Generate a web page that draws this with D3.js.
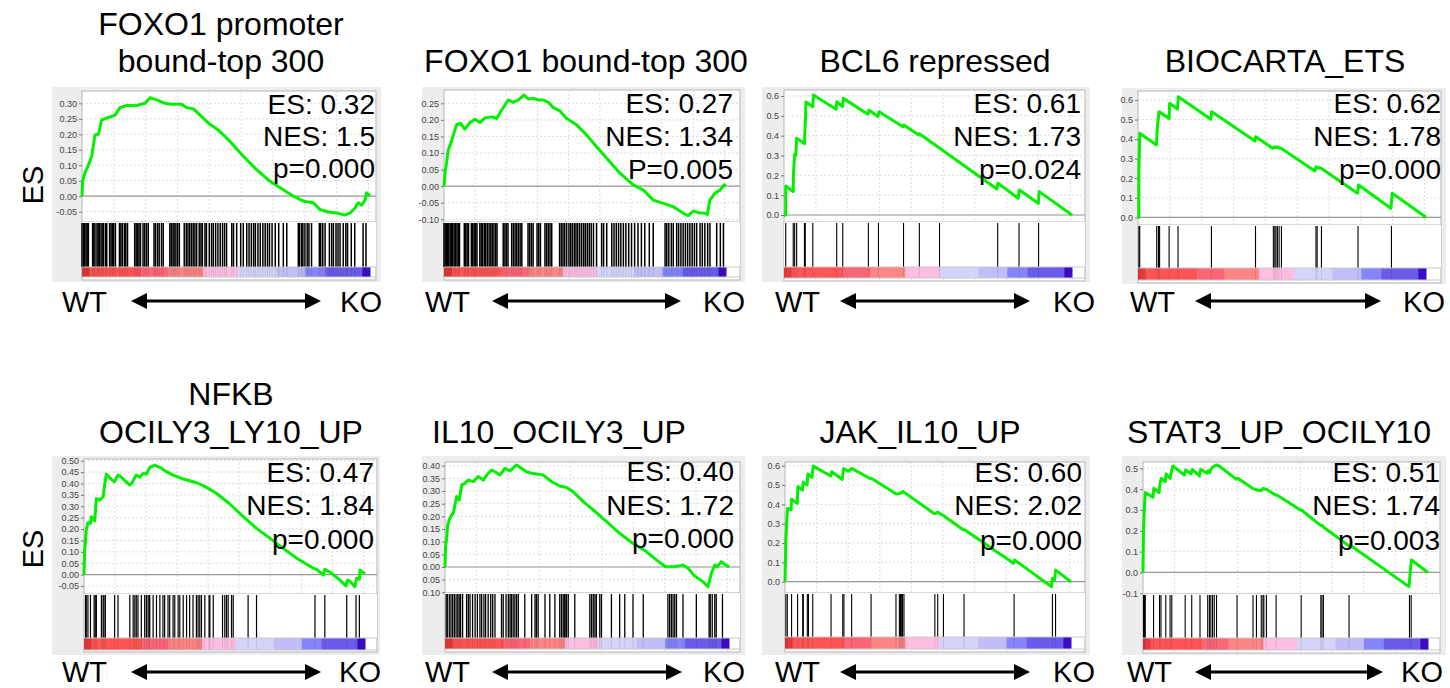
<!DOCTYPE html>
<html>
<head>
<meta charset="utf-8">
<script src="https://cdn.jsdelivr.net/npm/d3@7"></script>
<style>
  body { margin: 0; background: #fff; }
  svg { display: block; }
  text { font-family: "Liberation Sans", Arial, sans-serif; }
</style>
</head>
<body>
<svg width="1450" height="688"></svg>
<script>
// ---------- data ----------
// ranks are given in thousandths of the ranked gene list (0 = most WT, 1000 = most KO)
const titles = [
  ["FOXO1 promoter", "bound-top 300"],
  ["FOXO1 bound-top 300"],
  ["BCL6 repressed"],
  ["BIOCARTA_ETS"],
  ["NFKB", "OCILY3_LY10_UP"],
  ["IL10_OCILY3_UP"],
  ["JAK_IL10_UP"],
  ["STAT3_UP_OCILY10"]
];
const esScores = ["0.32", "0.27", "0.61", "0.62", "0.47", "0.40", "0.60", "0.51"];
const nesScores = ["1.5", "1.34", "1.73", "1.78", "1.84", "1.72", "2.02", "1.74"];
const pValues = ["p=0.000", "P=0.005", "p=0.024", "p=0.000", "p=0.000", "p=0.000", "p=0.000", "p=0.003"];

const ticks1 = [-0.05, 0, 0.05, 0.10, 0.15, 0.20, 0.25, 0.30];
const ticks2 = [-0.10, -0.05, 0, 0.05, 0.10, 0.15, 0.20, 0.25];
const ticks3 = [0, 0.1, 0.2, 0.3, 0.4, 0.5, 0.6];
const ticks4 = [0, 0.1, 0.2, 0.3, 0.4, 0.5, 0.6];
const ticks5 = [-0.05, 0, 0.05, 0.10, 0.15, 0.20, 0.25, 0.30, 0.35, 0.40, 0.45, 0.50];
const ticks6 = [-0.10, -0.05, 0, 0.05, 0.10, 0.15, 0.20, 0.25, 0.30, 0.35, 0.40];
const ticks7 = [0, 0.1, 0.2, 0.3, 0.4, 0.5, 0.6];
const ticks8 = [-0.1, 0, 0.1, 0.2, 0.3, 0.4, 0.5];

// ranked list colour bar
const rankBreaks = [0, 27, 206, 300, 421, 541, 675, 775, 845, 973, 1000];
const rankColors = ["#e43a3f", "#fd5555", "#fb6677", "#fc8585", "#ffbde2",
                    "#d4d4fb", "#c1bdf9", "#8585f9", "#6a5be9", "#3b0cc4"];
const listSize = 18100;
const gridStep = 2000;

// running enrichment score [rank, ES]
const curve1 = [[0,0],[2,.048],[10,.075],[22,.10],[34,.129],[45,.198],[57,.20],[68,.246],[91,.254],[115,.262],[132,.286],[155,.293],[190,.293],[219,.30],[236,.318],[259,.311],[288,.30],[311,.297],[346,.297],[363,.286],[387,.282],[421,.252],[444,.232],[473,.214],[514,.177],[560,.129],[606,.086],[653,.048],[699,.021],[734,0],[769,-.016],[803,-.021],[826,-.043],[855,-.051],[884,-.054],[913,-.061],[931,-.054],[948,-.038],[959,-.021],[971,-.029],[983,-.011],[988,.011],[1000,.002]];
const curve2 = [[0,0],[4,.044],[9,.069],[15,.109],[24,.129],[33,.154],[45,.186],[59,.189],[74,.172],[92,.192],[110,.202],[128,.192],[145,.206],[169,.209],[187,.204],[204,.229],[228,.26],[246,.253],[264,.26],[284,.275],[299,.263],[317,.265],[335,.26],[352,.26],[370,.253],[388,.237],[411,.227],[435,.204],[470,.185],[506,.154],[541,.119],[577,.084],[624,.039],[671,.004],[707,-.012],[742,-.042],[778,-.052],[813,-.062],[849,-.082],[866,-.089],[884,-.075],[902,-.08],[926,-.082],[934,-.085],[943,-.042],[961,-.021],[979,-.012],[993,.004],[1000,0]];
const curve3 = [[0,0],[6,0],[6,.146],[32,.118],[33,.213],[37,.306],[41,.30],[44,.387],[71,.36],[73,.437],[75,.50],[76,.57],[100,.546],[102,.605],[181,.533],[183,.571],[203,.546],[206,.588],[291,.508],[295,.529],[326,.496],[330,.521],[413,.445],[416,.454],[468,.403],[470,.41],[739,.131],[743,.16],[813,.084],[817,.126],[883,.059],[886,.118],[1000,0]];
const curve4 = [[0,0],[3,0],[3,.225],[6,.43],[64,.37],[67,.458],[73,.54],[108,.506],[110,.583],[137,.554],[140,.617],[253,.501],[256,.54],[406,.39],[409,.412],[467,.353],[473,.36],[479,.357],[484,.36],[490,.355],[498,.352],[614,.237],[618,.259],[622,.251],[626,.255],[637,.25],[762,.123],[766,.165],[878,.046],[883,.123],[1000,0]];
const curve5 = [[0,0],[2,.10],[5,.145],[8,.195],[14,.228],[23,.225],[26,.254],[38,.236],[44,.334],[56,.327],[68,.342],[74,.40],[80,.441],[97,.418],[109,.408],[121,.437],[133,.427],[163,.393],[169,.40],[186,.437],[198,.427],[210,.444],[222,.441],[234,.471],[252,.481],[270,.471],[293,.452],[317,.437],[347,.422],[376,.412],[406,.401],[436,.383],[471,.357],[519,.31],[567,.254],[614,.203],[662,.159],[709,.115],[757,.072],[816,.028],[828,.023],[852,-.002],[857,.023],[881,.006],[911,-.024],[932,-.05],[938,-.024],[947,-.03],[964,-.053],[970,-.016],[980,-.02],[982,.02],[1000,.003]];
const curve6 = [[0,0],[2,.08],[6,.113],[9,.162],[15,.186],[23,.205],[29,.212],[35,.245],[41,.278],[50,.264],[59,.324],[70,.33],[82,.343],[100,.337],[117,.357],[135,.343],[147,.363],[164,.383],[176,.376],[193,.363],[211,.389],[229,.38],[252,.403],[270,.389],[287,.376],[305,.37],[322,.367],[346,.363],[375,.337],[404,.32],[428,.314],[451,.297],[487,.258],[522,.225],[569,.179],[615,.133],[662,.093],[709,.061],[744,.028],[777,.001],[803,.001],[821,.004],[838,.008],[856,-.005],[879,-.036],[897,-.049],[914,-.064],[926,-.078],[938,-.025],[950,.008],[959,.001],[973,.021],[985,.011],[1000,0]];
const curve7 = [[0,0],[3,.216],[6,.31],[9,.379],[21,.371],[23,.426],[43,.405],[45,.491],[61,.474],[64,.514],[77,.50],[80,.557],[94,.54],[99,.598],[160,.547],[164,.569],[200,.529],[205,.586],[221,.571],[233,.586],[297,.534],[303,.534],[385,.457],[391,.453],[403,.457],[413,.466],[521,.353],[527,.353],[533,.36],[551,.345],[624,.267],[628,.269],[799,.095],[803,.112],[932,-.026],[935,.017],[943,.009],[946,.06],[1000,0]];
const curve8 = [[0,0],[2,.22],[5,.308],[8,.384],[35,.361],[38,.404],[56,.383],[60,.428],[64,.452],[78,.436],[81,.473],[95,.452],[101,.492],[105,.511],[145,.468],[150,.492],[169,.473],[173,.495],[198,.463],[202,.495],[226,.476],[229,.489],[235,.48],[238,.495],[244,.505],[250,.511],[258,.516],[267,.511],[328,.447],[333,.452],[384,.404],[400,.396],[415,.393],[423,.404],[433,.399],[465,.372],[470,.372],[552,.30],[556,.30],[624,.225],[630,.225],[634,.217],[721,.129],[726,.132],[933,-.068],[936,-.028],[938,.012],[942,.06],[1000,0]];

// positions of gene-set members in the ranked list
const hits1 = [0,5,9,14,18,22,37,41,45,52,56,60,66,70,75,82,86,96,101,106,110,116,130,135,140,147,152,158,183,188,193,198,203,212,218,224,230,250,255,262,268,276,282,305,310,316,320,326,332,338,355,362,368,374,380,386,392,398,407,413,418,427,432,442,450,456,464,472,480,488,495,502,520,526,537,551,560,572,580,588,596,602,611,619,628,636,644,651,660,671,683,699,711,751,756,763,767,774,782,788,797,824,829,836,844,859,867,873,882,889,896,907,916,922,935,947,976,986];
const hits2 = [0,4,8,13,17,22,27,31,36,41,46,51,55,72,77,82,87,97,102,107,112,117,127,132,137,143,148,154,160,166,171,177,183,188,210,216,221,227,240,246,252,258,264,270,276,298,304,310,316,330,336,342,358,364,370,376,382,410,416,422,428,435,443,449,455,462,468,474,481,488,495,501,508,515,522,530,541,559,566,577,595,603,611,619,627,636,645,655,665,676,688,700,712,728,742,784,790,797,806,813,825,832,840,848,856,864,872,880,888,896,908,916,925,935,943,967,980,991];
const hits3 = [6,32,37,44,71,74,100,183,204,293,328,415,470,540,742,816,884];
const hits4 = [3,6,65,71,75,108,139,255,408,470,475,479,484,490,498,618,622,637,764,880];
const hits5 = [5,8,14,23,36,40,44,62,68,71,76,109,121,163,175,181,186,192,204,216,222,228,232,234,246,258,270,281,287,299,305,317,323,335,341,353,365,376,388,400,406,412,418,430,445,448,460,493,501,507,513,525,531,584,614,822,857,935,968,980];
const hits6 = [4,8,15,21,27,33,39,45,50,55,62,76,82,88,97,106,114,123,129,137,143,152,161,168,176,199,205,215,223,229,234,240,246,252,258,281,305,317,322,328,352,369,387,404,410,416,420,423,428,434,457,510,516,522,528,533,545,551,586,615,633,662,698,785,791,797,803,809,815,838,885,930,934,941,950,955,977];
const hits7 = [3,8,23,44,62,64,78,82,97,161,202,206,233,301,388,400,404,408,411,416,524,534,554,626,801,935,946];
const hits8 = [2,5,8,37,58,63,80,95,101,148,171,200,227,233,238,244,250,258,330,386,398,415,421,424,433,467,555,624,628,633,723,935,941];

const curves = [curve1, curve2, curve3, curve4, curve5, curve6, curve7, curve8];
const hitSets = [hits1, hits2, hits3, hits4, hits5, hits6, hits7, hits8];
const tickSets = [ticks1, ticks2, ticks3, ticks4, ticks5, ticks6, ticks7, ticks8];

// ---------- layout of each panel (pixels) ----------
const layout = [
  { fx: 52, fw: 329, fy: 87, fh: 195, left: 82, right: 370, pr: 376, top: 91, sep: 222, cbT: 267, cbB: 277, bot: 280,
    cal: [0.30, 103.3, -0.05, 211.7], fmt: ".2f", tx: 221, ty: [35, 72], sx: 375, sy: [114, 146, 178],
    wt: 62, arr: [131, 321], ko: 382, ay: 301, wy: 312, hw: 1.5 },
  { fx: 422, fw: 323, fy: 87, fh: 195, left: 444, right: 726, pr: 740, top: 90, sep: 222, cbT: 267, cbB: 277, bot: 280,
    cal: [0.25, 103.3, -0.10, 219.3], fmt: ".2f", tx: 586, ty: [72], sx: 733, sy: [113, 146, 179],
    wt: 425, arr: [492, 681], ko: 745, ay: 301, wy: 312, hw: 1.5 },
  { fx: 762, fw: 328, fy: 87, fh: 195, left: 784, right: 1072, pr: 1085, top: 90, sep: 222, cbT: 267, cbB: 278, bot: 281,
    cal: [0.6, 96, 0, 215], fmt: ".1f", tx: 935, ty: [72], sx: 1081, sy: [113, 146, 179],
    wt: 775, arr: [840, 1030], ko: 1095, ay: 301, wy: 312, hw: 1.1 },
  { fx: 1122, fw: 324, fy: 88, fh: 196, left: 1138, right: 1426, pr: 1441, top: 91, sep: 225, cbT: 268, cbB: 280, bot: 283,
    cal: [0.6, 100, 0, 217.3], fmt: ".1f", tx: 1285, ty: [72], sx: 1441, sy: [113, 146, 179],
    wt: 1130, arr: [1195, 1381], ko: 1445, ay: 301, wy: 312, hw: 1.1 },
  { fx: 52, fw: 328, fy: 456, fh: 199, left: 84, right: 365, pr: 377, top: 459, sep: 594, cbT: 638, cbB: 650, bot: 652,
    cal: [0.50, 460.7, -0.05, 586], fmt: ".2f", tx: 231, ty: [405, 443], sx: 374, sy: [482, 515, 549],
    wt: 62, arr: [131, 321], ko: 381, ay: 672, wy: 682, hw: 1.2 },
  { fx: 422, fw: 323, fy: 456, fh: 199, left: 445, right: 729, pr: 740, top: 462, sep: 593, cbT: 638, cbB: 649, bot: 652,
    cal: [0.40, 465.7, -0.10, 592.3], fmt: ".2f", noMinus: true, tx: 559, ty: [443], sx: 734, sy: [481, 515, 548],
    wt: 425, arr: [492, 682], ko: 745, ay: 672, wy: 682, hw: 1.3 },
  { fx: 762, fw: 328, fy: 456, fh: 199, left: 785, right: 1071, pr: 1085, top: 462, sep: 593, cbT: 637, cbB: 649, bot: 652,
    cal: [0.6, 465.7, 0, 581.7], fmt: ".1f", tx: 920, ty: [443], sx: 1082, sy: [482, 515, 550],
    wt: 775, arr: [840, 1030], ko: 1095, ay: 672, wy: 682, hw: 1.1 },
  { fx: 1122, fw: 324, fy: 456, fh: 199, left: 1143, right: 1428, pr: 1440, top: 462, sep: 594, cbT: 638, cbB: 650, bot: 653,
    cal: [0.5, 468.3, -0.1, 593.3], fmt: ".1f", tx: 1279, ty: [443], sx: 1440, sy: [482, 515, 550],
    wt: 1127, arr: [1195, 1383], ko: 1443, ay: 672, wy: 682, hw: 1.1 }
];

const svg = d3.select("svg");

// y axis label "ES" for each row
[185, 549].forEach(cy => {
  svg.append("text")
    .attr("transform", "translate(33," + cy + ") rotate(-90)")
    .attr("text-anchor", "middle")
    .attr("dominant-baseline", "central")
    .attr("font-size", 29)
    .text("ES");
});

layout.forEach((L, i) => {
  const g = svg.append("g");
  const x = d3.scaleLinear().domain([0, 1000]).range([L.left, L.right]);
  const y = d3.scaleLinear().domain([L.cal[2], L.cal[0]]).range([L.cal[3], L.cal[1]]);

  // grey frame + white plot area
  g.append("rect").attr("x", L.fx).attr("y", L.fy).attr("width", L.fw).attr("height", L.fh).attr("fill", "#ededed");
  g.append("rect").attr("x", L.left).attr("y", L.top).attr("width", L.pr - L.left).attr("height", L.bot - L.top)
    .attr("fill", "#fff").attr("stroke", "#b5b5b5").attr("stroke-width", 1);

  // grid
  const gridRanks = d3.range(gridStep, listSize, gridStep).map(r => r / listSize * 1000);
  g.selectAll(null).data(gridRanks).enter().append("line")
    .attr("x1", d => x(d)).attr("x2", d => x(d))
    .attr("y1", L.top).attr("y2", L.bot)
    .attr("stroke", "#dcdcdc").attr("stroke-dasharray", "2,2");
  g.selectAll(null).data(tickSets[i]).enter().append("line")
    .attr("x1", L.left).attr("x2", L.pr)
    .attr("y1", d => y(d)).attr("y2", d => y(d))
    .attr("stroke", "#dcdcdc").attr("stroke-dasharray", "2,2");

  // zero line and separator
  g.append("line").attr("x1", L.left).attr("x2", L.pr).attr("y1", y(0)).attr("y2", y(0))
    .attr("stroke", "#9a9a9a").attr("stroke-width", 1.2);
  g.append("line").attr("x1", L.left).attr("x2", L.pr).attr("y1", L.sep).attr("y2", L.sep)
    .attr("stroke", "#b5b5b5");
  g.append("rect").attr("x", L.left).attr("y", L.sep).attr("width", L.pr - L.left).attr("height", L.cbT - L.sep)
    .attr("fill", "#fff");

  // hits
  g.selectAll(null).data(hitSets[i]).enter().append("line")
    .attr("x1", d => x(d)).attr("x2", d => x(d))
    .attr("y1", L.sep + 1).attr("y2", L.cbT)
    .attr("stroke", "#000").attr("stroke-width", L.hw);

  // ranked list colour bar
  const segs = rankColors.map((c, k) => ({ a: rankBreaks[k], b: rankBreaks[k + 1], c: c }));
  g.selectAll(null).data(segs).enter().append("rect")
    .attr("x", d => x(d.a)).attr("width", d => x(d.b) - x(d.a) + 0.5)
    .attr("y", L.cbT).attr("height", L.cbB - L.cbT)
    .attr("fill", d => d.c);
  g.selectAll(null).data(hitSets[i]).enter().append("line")
    .attr("x1", d => x(d)).attr("x2", d => x(d))
    .attr("y1", L.cbT).attr("y2", L.cbB)
    .attr("stroke", "#000").attr("stroke-opacity", 0.1);
  g.append("line").attr("x1", L.left).attr("x2", L.pr).attr("y1", L.cbT).attr("y2", L.cbT).attr("stroke", "#c8c8c8");
  g.append("line").attr("x1", L.left).attr("x2", L.pr).attr("y1", L.cbB).attr("y2", L.cbB).attr("stroke", "#c8c8c8");

  // y ticks
  const fmt = d3.format(L.fmt);
  const yAxis = d3.axisLeft(y).tickValues(tickSets[i]).tickSize(3).tickPadding(2)
    .tickFormat(d => L.noMinus ? fmt(Math.abs(d)) : fmt(d).replace("−", "-"));
  const ax = g.append("g").attr("transform", "translate(" + L.left + ",0)").call(yAxis);
  ax.select(".domain").remove();
  ax.selectAll("line").attr("stroke", "#777");
  ax.selectAll("text").attr("font-size", 9).attr("fill", "#444")
    .attr("font-family", "'Liberation Sans', Arial, sans-serif");

  // running ES curve
  const line = d3.line().x(d => x(d[0])).y(d => y(d[1]));
  g.append("path").datum(curves[i])
    .attr("d", line).attr("fill", "none")
    .attr("stroke", "#00f000").attr("stroke-width", 3).attr("stroke-linejoin", "round");

  // stats
  [["ES: " + esScores[i]], ["NES: " + nesScores[i]], [pValues[i]]].forEach((t, k) => {
    g.append("text").attr("x", L.sx).attr("y", L.sy[k])
      .attr("text-anchor", "end").attr("font-size", 28).text(t[0]);
  });

  // title
  titles[i].forEach((t, k) => {
    const base = L.ty[L.ty.length - titles[i].length + k];
    g.append("text").attr("x", L.tx).attr("y", base)
      .attr("text-anchor", "middle").attr("font-size", 32).text(t);
  });

  // WT <-> KO
  g.append("text").attr("x", L.wt).attr("y", L.wy).attr("font-size", 29).text("WT");
  g.append("text").attr("x", L.ko).attr("y", L.wy).attr("text-anchor", "end").attr("font-size", 29).text("KO");
  const [a1, a2] = L.arr;
  g.append("line").attr("x1", a1 + 10).attr("x2", a2 - 10).attr("y1", L.ay).attr("y2", L.ay)
    .attr("stroke", "#000").attr("stroke-width", 3);
  g.append("path")
    .attr("d", "M" + a1 + "," + L.ay + "L" + (a1 + 16) + "," + (L.ay - 8) + "L" + (a1 + 16) + "," + (L.ay + 8) + "Z" +
               "M" + a2 + "," + L.ay + "L" + (a2 - 16) + "," + (L.ay - 8) + "L" + (a2 - 16) + "," + (L.ay + 8) + "Z")
    .attr("fill", "#000");
});
</script>
</body>
</html>
